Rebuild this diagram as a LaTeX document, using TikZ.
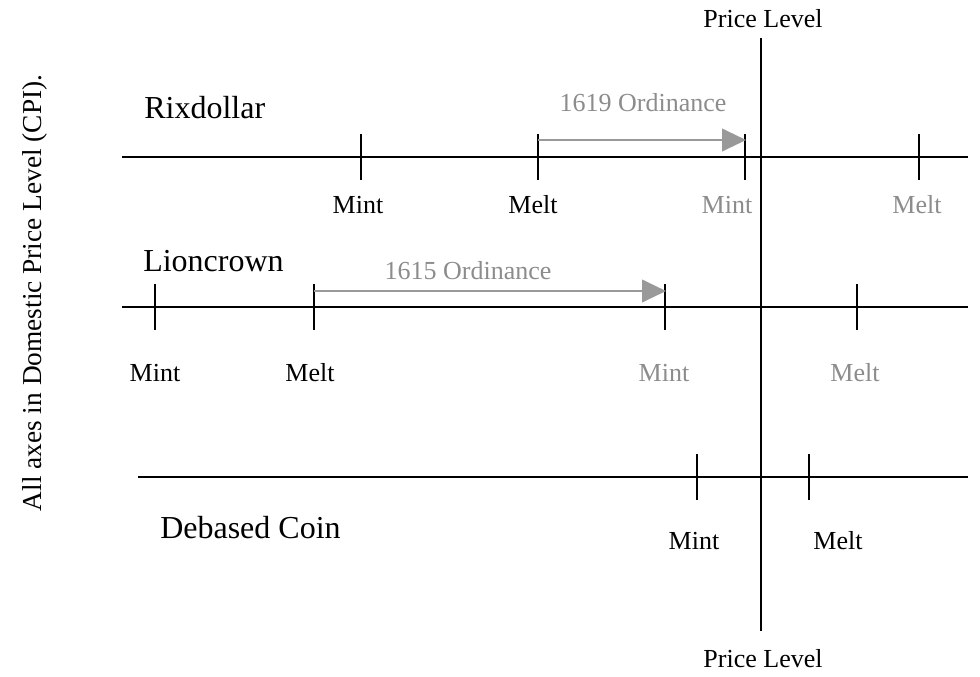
\documentclass[tikz,border=0pt]{standalone}
\usepackage{fontspec}
\setmainfont{Liberation Serif}
\usetikzlibrary{arrows.meta}
\definecolor{arrgray}{HTML}{999999}
\definecolor{txtgray}{HTML}{8C8C8C}
\tikzset{
  axis/.style={line width=1.3pt, black},
  tickmark/.style={line width=1.3pt, black},
  title/.style={font=\fontsize{24}{28}\selectfont, inner sep=0pt, anchor=west},
  lbl/.style={font=\fontsize{19.5}{23}\selectfont, inner sep=0pt},
  glbl/.style={lbl, text=txtgray},
  ordarrow/.style={line width=1.5pt, arrgray, -{Triangle[length=18pt,width=17pt]}},
}
\begin{document}
\begin{tikzpicture}[x=0.75pt,y=-0.75pt]
\useasboundingbox (0,0) rectangle (980,676);

% price level axis
\node[lbl] (pltop) at (763,19) {Price Level};
\node[lbl] (plbot) at (763,659) {Price Level};
\coordinate (vt) at (761,38);
\coordinate (vb) at (761,631);
\draw[axis] (vt) -- (vb);

% side note
\node[font=\fontsize{20.5}{24}\selectfont, rotate=90, inner sep=0pt] (note) at (35,293) {All axes in Domestic Price Level (CPI).};

% Rixdollar
\node[title] (rix) at (144,108) {Rixdollar};
\coordinate (rl) at (122,157);
\coordinate (rr) at (968,157);
\draw[axis] (rl) -- (rr);
\foreach \n/\x in {r1/361,r2/538,r3/745,r4/919}{
  \coordinate (\n) at (\x,157);
  \draw[tickmark] ([yshift=-17]\n) -- ([yshift=17]\n);
}
\node[lbl] (rmint) at (358,205) {Mint};
\node[lbl] (rmelt) at (533,205) {Melt};
\node[glbl] (rmint2) at (727,205) {Mint};
\node[glbl] (rmelt2) at (917,205) {Melt};
\coordinate (ra) at (538,140);
\coordinate (rb) at (746,140);
\draw[ordarrow] (ra) -- (rb);
\node[glbl] (ord19) at (643,103) {1619 Ordinance};

% Lioncrown
\node[title] (lion) at (143,261) {Lioncrown};
\coordinate (ll) at (122,307);
\coordinate (lr) at (968,307);
\draw[axis] (ll) -- (lr);
\foreach \n/\x in {l1/155,l2/314,l3/665,l4/857}{
  \coordinate (\n) at (\x,307);
  \draw[tickmark] ([yshift=-17]\n) -- ([yshift=17]\n);
}
\node[lbl] (lmint) at (155,373) {Mint};
\node[lbl] (lmelt) at (310,373) {Melt};
\node[glbl] (lmint2) at (664,373) {Mint};
\node[glbl] (lmelt2) at (855,373) {Melt};
\coordinate (la) at (314,291);
\coordinate (lb) at (666,291);
\draw[ordarrow] (la) -- (lb);
\node[glbl] (ord15) at (468,271) {1615 Ordinance};

% Debased coin
\node[title] (deb) at (160,528) {Debased Coin};
\coordinate (dl) at (138,477);
\coordinate (dr) at (968,477);
\draw[axis] (dl) -- (dr);
\foreach \n/\x in {d1/697,d2/809}{
  \coordinate (\n) at (\x,477);
  \draw[tickmark] ([yshift=-17]\n) -- ([yshift=17]\n);
}
\node[lbl] (dmint) at (694,541) {Mint};
\node[lbl] (dmelt) at (838,541) {Melt};
\end{tikzpicture}
\end{document}
